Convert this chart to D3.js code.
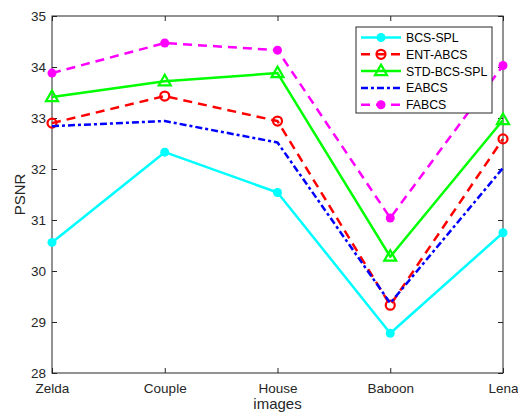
<!DOCTYPE html>
<html>
<head>
<meta charset="utf-8">
<script src="https://cdn.jsdelivr.net/npm/d3@7"></script>
<style>
  body { margin: 0; background: #fff; }
  text { font-family: "Liberation Sans", Arial, sans-serif; }
</style>
</head>
<body>
<svg id="chart"></svg>
<script>
// categories and values
let images = ["Zelda", "Couple", "House", "Baboon", "Lena"];
let bcsSpl = [30.56, 32.33, 31.54, 28.78, 30.75];
let entAbcs = [32.90, 33.43, 32.94, 29.33, 32.59];
let stdBcsSpl = [33.41, 33.72, 33.88, 30.28, 32.96];
let eabcs = [32.84, 32.94, 32.52, 29.37, 32.02];
let fabcs = [33.88, 34.47, 34.33, 31.04, 34.03];
let yTicks = [28, 29, 30, 31, 32, 33, 34, 35];

let series = [
  {name: "BCS-SPL", values: bcsSpl, color: "#00ffff", dash: null, marker: "dot"},
  {name: "ENT-ABCS", values: entAbcs, color: "#ff0000", dash: "9,6", marker: "ring"},
  {name: "STD-BCS-SPL", values: stdBcsSpl, color: "#00ff00", dash: null, marker: "tri"},
  {name: "EABCS", values: eabcs, color: "#0000ff", dash: "7,3,3,3", marker: null},
  {name: "FABCS", values: fabcs, color: "#ff00ff", dash: "9,6", marker: "dot"}
];

let width = 518, height = 414;
let margin = {left: 52, right: 15, top: 16, bottom: 41};

let svg = d3.select("#chart").attr("width", width).attr("height", height);

let x = d3.scalePoint().domain(images).range([margin.left, width - margin.right]);
let y = d3.scaleLinear().domain([28, 35]).range([height - margin.bottom, margin.top]);

let axisColor = "#262626";
let tick = 5;

// box
svg.append("rect")
  .attr("x", margin.left).attr("y", margin.top)
  .attr("width", width - margin.left - margin.right)
  .attr("height", height - margin.top - margin.bottom)
  .attr("fill", "none").attr("stroke", axisColor).attr("stroke-width", 1);

// x axis (ticks inward)
let xAxis = svg.append("g").attr("transform", translate(0, y(28)))
  .call(d3.axisBottom(x).tickSizeInner(-tick).tickSizeOuter(0).tickPadding(10));
xAxis.select(".domain").remove();
xAxis.selectAll("line").attr("stroke", axisColor);
xAxis.selectAll("text").attr("fill", axisColor).style("font-size", "13.5px");

let xTop = svg.append("g").attr("transform", translate(0, y(35)))
  .call(d3.axisTop(x).tickSizeInner(-tick).tickSizeOuter(0).tickFormat(""));
xTop.select(".domain").remove();
xTop.selectAll("line").attr("stroke", axisColor);

// y axis
let yAxis = svg.append("g").attr("transform", translate(margin.left, 0))
  .call(d3.axisLeft(y).tickValues(yTicks).tickFormat(d3.format("d"))
    .tickSizeInner(-tick).tickSizeOuter(0).tickPadding(6));
yAxis.select(".domain").remove();
yAxis.selectAll("line").attr("stroke", axisColor);
yAxis.selectAll("text").attr("fill", axisColor).style("font-size", "13.5px");

let yRight = svg.append("g").attr("transform", translate(width - margin.right, 0))
  .call(d3.axisRight(y).tickValues(yTicks).tickSizeInner(-tick).tickSizeOuter(0).tickFormat(""));
yRight.select(".domain").remove();
yRight.selectAll("line").attr("stroke", axisColor);

// axis labels
svg.append("text").attr("x", (margin.left + width - margin.right) / 2).attr("y", 409)
  .attr("text-anchor", "middle").attr("fill", axisColor).style("font-size", "15px").text("images");
svg.append("text").attr("transform", "translate(25," + ((margin.top + height - margin.bottom) / 2) + ") rotate(-90)")
  .attr("text-anchor", "middle").attr("fill", axisColor).style("font-size", "15px").text("PSNR");

// lines
let line = d3.line().x((d, i) => x(images[i])).y(d => y(d));
let plot = svg.append("g");

series.forEach(function(s) {
  plot.append("path").datum(s.values)
    .attr("d", line)
    .attr("fill", "none")
    .attr("stroke", s.color)
    .attr("stroke-width", 2.5)
    .attr("stroke-dasharray", s.dash)
    .attr("stroke-linejoin", "round");
  s.values.forEach(function(v, i) {
    drawMarker(plot, s, x(images[i]), y(v));
  });
});

function drawMarker(g, s, cx, cy) {
  if (s.marker === "dot") {
    g.append("circle").attr("cx", cx).attr("cy", cy).attr("r", 4.5).attr("fill", s.color);
  } else if (s.marker === "ring") {
    g.append("circle").attr("cx", cx).attr("cy", cy).attr("r", 4.5)
      .attr("fill", "none").attr("stroke", s.color).attr("stroke-width", 2.2);
  } else if (s.marker === "tri") {
    g.append("path").attr("d", "M" + cx + "," + (cy - 6.5) + "L" + (cx + 6) + "," + (cy + 4) + "L" + (cx - 6) + "," + (cy + 4) + "Z")
      .attr("fill", "none").attr("stroke", s.color).attr("stroke-width", 2.2);
  }
}

// legend
let legend = svg.append("g").attr("transform", translate(356, 27));
legend.append("rect").attr("width", 136).attr("height", 86)
  .attr("fill", "#fff").attr("stroke", axisColor).attr("stroke-width", 1);

series.forEach(function(s, i) {
  let ly = 10.5 + i * 16.8;
  legend.append("line").attr("x1", 5).attr("x2", 45).attr("y1", ly).attr("y2", ly)
    .attr("stroke", s.color).attr("stroke-width", 2.5).attr("stroke-dasharray", s.dash);
  drawMarker(legend, s, 25, ly);
  legend.append("text").attr("x", 50).attr("y", ly + 4.5)
    .attr("fill", "#000").style("font-size", "12.3px").text(s.name);
});

function translate(a, b) {
  return "translate(" + a + "," + b + ")";
}
</script>
</body>
</html>
